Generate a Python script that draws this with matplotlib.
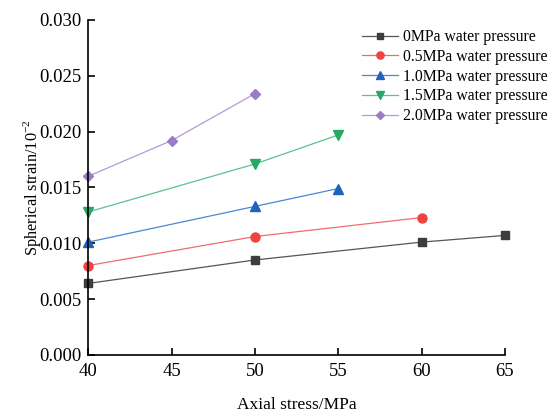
import matplotlib.pyplot as plt

plt.rcParams['font.family'] = ['Liberation Serif', 'DejaVu Serif']
plt.rcParams['mathtext.fontset'] = 'custom'
plt.rcParams['mathtext.rm'] = 'Liberation Serif'

# datos
x_0 = [40, 50, 60, 65]
y_0 = [0.0064, 0.0085, 0.0101, 0.0107]
x_05 = [40, 50, 60]
y_05 = [0.0080, 0.0106, 0.0123]
x_10 = [40, 50, 55]
y_10 = [0.0101, 0.0133, 0.0149]
x_15 = [40, 50, 55]
y_15 = [0.0128, 0.0171, 0.0197]
x_20 = [40, 45, 50]
y_20 = [0.0160, 0.0192, 0.0234]

etiquetas = ['0MPa water pressure', '0.5MPa water pressure', '1.0MPa water pressure',
             '1.5MPa water pressure', '2.0MPa water pressure']

fig = plt.figure(figsize=(5.55, 4.16), dpi=100)
ax = fig.add_axes([0.159, 0.147, 0.751, 0.805])

ax.plot(x_0, y_0, color='#555555', lw=0.9, marker='s', ms=6, mfc='#3d3d3d', mec='#3d3d3d', label=etiquetas[0], clip_on=False)
ax.plot(x_05, y_05, color='#f26b6b', lw=0.9, marker='o', ms=6.5, mfc='#ef4343', mec='#ef4343', label=etiquetas[1], clip_on=False)
ax.plot(x_10, y_10, color='#4a86d6', lw=0.9, marker='^', ms=7, mfc='#1f62c0', mec='#1f62c0', label=etiquetas[2], clip_on=False)
ax.plot(x_15, y_15, color='#5cc28c', lw=0.9, marker='v', ms=7, mfc='#27a865', mec='#27a865', label=etiquetas[3], clip_on=False)
ax.plot(x_20, y_20, color='#b39ad6', lw=0.9, marker='D', ms=5.5, mfc='#9a7cc6', mec='#9a7cc6', label=etiquetas[4], clip_on=False)

ax.set_xlim(40, 65)
ax.set_ylim(0, 0.030)
ax.set_xticks([40, 45, 50, 55, 60, 65])
ax.set_yticks([0.000, 0.005, 0.010, 0.015, 0.020, 0.025, 0.030])
ax.set_yticklabels(['0.000', '0.005', '0.010', '0.015', '0.020', '0.025', '0.030'])

ax.spines['top'].set_visible(False)
ax.spines['right'].set_visible(False)
ax.spines['left'].set_linewidth(1.2)
ax.spines['bottom'].set_linewidth(1.2)
ax.tick_params(direction='in', length=5, width=1.2, labelsize=13.5)
ax.tick_params(axis='x', pad=6)
ax.tick_params(axis='y', pad=5)

ax.set_xlabel('Axial stress/MPa', fontsize=12.5, labelpad=12)
ax.set_ylabel('Spherical strain/10$^{-2}$', fontsize=11.8, labelpad=-3)

leg = ax.legend(loc='upper right', bbox_to_anchor=(1.135, 1.015), frameon=False, fontsize=11.3,
                handlelength=2.3, labelspacing=0.24, handletextpad=0.3, markerscale=0.8)

fig.savefig('out.png', dpi=100)
